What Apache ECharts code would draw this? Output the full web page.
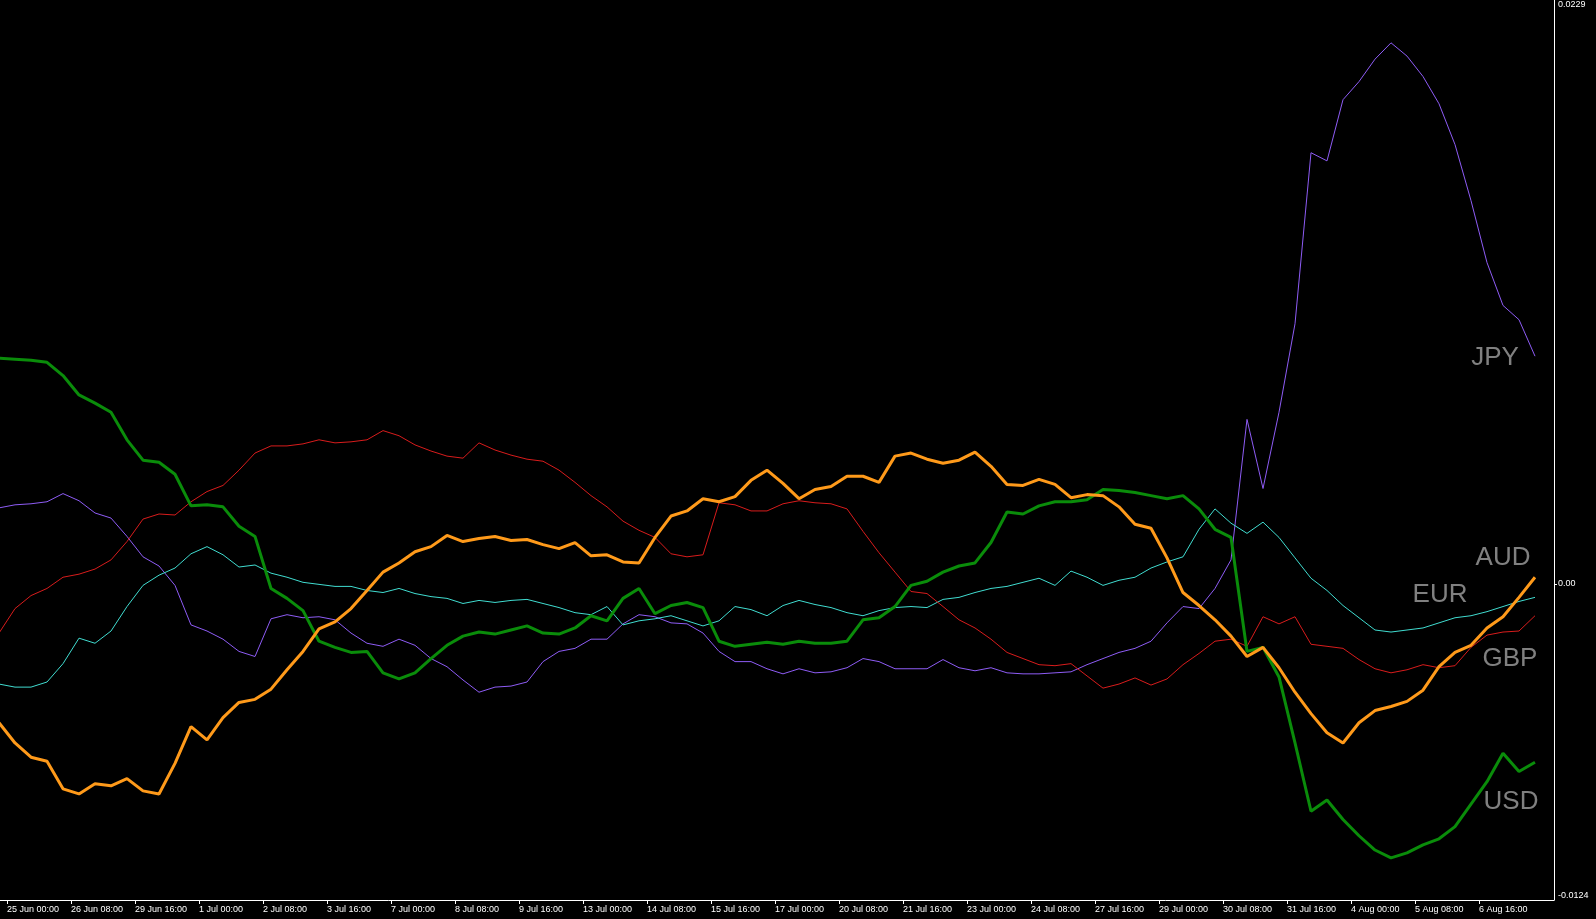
<!DOCTYPE html>
<html>
<head>
<meta charset="utf-8">
<script src="https://cdn.jsdelivr.net/npm/echarts@6/dist/echarts.min.js"></script>
<style>
html,body{margin:0;padding:0;background:#000;}
#c{width:1596px;height:919px;}
</style>
</head>
<body>
<div id="c"></div>
<script>
// Time-axis tick labels (one every 4 H8 bars)
const tickLabels = ['25 Jun 00:00','26 Jun 08:00','29 Jun 16:00','1 Jul 00:00','2 Jul 08:00','3 Jul 16:00',
  '7 Jul 00:00','8 Jul 08:00','9 Jul 16:00','13 Jul 00:00','14 Jul 08:00','15 Jul 16:00','17 Jul 00:00',
  '20 Jul 08:00','21 Jul 16:00','23 Jul 00:00','24 Jul 08:00','27 Jul 16:00','29 Jul 00:00','30 Jul 08:00',
  '31 Jul 16:00','4 Aug 00:00','5 Aug 08:00','6 Aug 16:00'];
const barsPerLabel = 4;
const firstBar = -1;          // first value belongs to the bar just before 25 Jun 00:00
const yLabelValues = [-0.0124, 0, 0.0229];

const USD = [0.00885,
 0.00881,0.00877,0.00869,0.00817,0.00741,0.00709,0.00673,0.00565,0.00485,0.00477,
 0.00430,0.00306,0.00310,0.00302,0.00226,0.00186,-0.00018,-0.00057,-0.00105,-0.00225,
 -0.00249,-0.00269,-0.00265,-0.00349,-0.00373,-0.00349,-0.00293,-0.00241,-0.00205,-0.00189,
 -0.00197,-0.00181,-0.00165,-0.00193,-0.00197,-0.00173,-0.00125,-0.00145,-0.00057,-0.00018,
 -0.00117,-0.00085,-0.00073,-0.00093,-0.00225,-0.00245,-0.00237,-0.00229,-0.00237,-0.00225,
 -0.00233,-0.00233,-0.00225,-0.00141,-0.00133,-0.00089,-0.00006,0.00010,0.00046,0.00070,
 0.00082,0.00162,0.00282,0.00274,0.00306,0.00322,0.00322,0.00330,0.00370,0.00366,
 0.00358,0.00346,0.00334,0.00346,0.00294,0.00214,0.00182,-0.00265,-0.00249,-0.00365,
 -0.00624,-0.00892,-0.00848,-0.00924,-0.00988,-0.01044,-0.01075,-0.01055,-0.01024,-0.01000,
 -0.00952,-0.00864,-0.00776,-0.00664,-0.00736,-0.00700];

const AUD = [-0.00545,
 -0.00624,-0.00680,-0.00696,-0.00804,-0.00824,-0.00784,-0.00792,-0.00764,-0.00812,-0.00824,
 -0.00704,-0.00560,-0.00612,-0.00525,-0.00465,-0.00453,-0.00413,-0.00337,-0.00265,-0.00177,
 -0.00149,-0.00097,-0.00026,0.00046,0.00082,0.00126,0.00146,0.00190,0.00166,0.00178,
 0.00186,0.00170,0.00174,0.00154,0.00138,0.00162,0.00110,0.00114,0.00086,0.00082,
 0.00182,0.00266,0.00286,0.00334,0.00322,0.00342,0.00406,0.00446,0.00394,0.00334,
 0.00370,0.00382,0.00422,0.00422,0.00398,0.00501,0.00513,0.00489,0.00473,0.00485,
 0.00517,0.00461,0.00390,0.00386,0.00410,0.00390,0.00338,0.00350,0.00346,0.00302,
 0.00234,0.00218,0.00102,-0.00034,-0.00085,-0.00141,-0.00205,-0.00285,-0.00249,-0.00329,
 -0.00425,-0.00509,-0.00584,-0.00624,-0.00545,-0.00497,-0.00481,-0.00461,-0.00417,-0.00325,
 -0.00269,-0.00241,-0.00173,-0.00129,-0.00053,0.00026];

const GBP = [-0.00193,
 -0.00097,-0.00046,-0.00018,0.00026,0.00038,0.00058,0.00094,0.00166,0.00254,0.00274,
 0.00270,0.00322,0.00362,0.00386,0.00446,0.00513,0.00541,0.00541,0.00549,0.00565,
 0.00553,0.00557,0.00565,0.00601,0.00581,0.00545,0.00521,0.00501,0.00493,0.00553,
 0.00525,0.00505,0.00489,0.00481,0.00446,0.00398,0.00346,0.00302,0.00246,0.00210,
 0.00182,0.00118,0.00106,0.00114,0.00318,0.00310,0.00286,0.00286,0.00314,0.00326,
 0.00318,0.00314,0.00294,0.00206,0.00122,0.00046,-0.00030,-0.00038,-0.00089,-0.00141,
 -0.00173,-0.00217,-0.00269,-0.00293,-0.00317,-0.00321,-0.00313,-0.00361,-0.00409,-0.00393,
 -0.00369,-0.00397,-0.00373,-0.00317,-0.00273,-0.00225,-0.00217,-0.00245,-0.00129,-0.00157,
 -0.00129,-0.00237,-0.00245,-0.00253,-0.00297,-0.00333,-0.00349,-0.00337,-0.00317,-0.00329,
 -0.00321,-0.00249,-0.00201,-0.00189,-0.00185,-0.00125];

const EUR = [-0.00393,
 -0.00405,-0.00405,-0.00385,-0.00313,-0.00213,-0.00233,-0.00185,-0.00089,-0.00006,0.00034,
 0.00062,0.00118,0.00146,0.00114,0.00066,0.00074,0.00042,0.00026,0.00006,-0.00002,
 -0.00010,-0.00010,-0.00026,-0.00034,-0.00018,-0.00038,-0.00050,-0.00057,-0.00077,-0.00065,
 -0.00073,-0.00065,-0.00061,-0.00077,-0.00093,-0.00113,-0.00121,-0.00089,-0.00161,-0.00145,
 -0.00137,-0.00125,-0.00145,-0.00165,-0.00145,-0.00089,-0.00101,-0.00125,-0.00085,-0.00065,
 -0.00081,-0.00093,-0.00113,-0.00125,-0.00105,-0.00093,-0.00089,-0.00093,-0.00061,-0.00053,
 -0.00034,-0.00018,-0.00010,0.00006,0.00022,-0.00006,0.00050,0.00026,-0.00006,0.00014,
 0.00026,0.00062,0.00086,0.00106,0.00214,0.00294,0.00238,0.00198,0.00242,0.00182,
 0.00102,0.00022,-0.00026,-0.00085,-0.00133,-0.00181,-0.00189,-0.00181,-0.00173,-0.00153,
 -0.00133,-0.00125,-0.00109,-0.00089,-0.00069,-0.00053];

const JPY = [0.00298,
 0.00310,0.00314,0.00322,0.00354,0.00326,0.00278,0.00258,0.00186,0.00106,0.00070,
 -0.00006,-0.00161,-0.00185,-0.00217,-0.00265,-0.00285,-0.00137,-0.00121,-0.00133,-0.00129,
 -0.00141,-0.00193,-0.00233,-0.00245,-0.00217,-0.00241,-0.00293,-0.00325,-0.00377,-0.00425,
 -0.00405,-0.00401,-0.00385,-0.00305,-0.00265,-0.00253,-0.00217,-0.00217,-0.00157,-0.00121,
 -0.00129,-0.00153,-0.00157,-0.00193,-0.00265,-0.00305,-0.00305,-0.00333,-0.00353,-0.00333,
 -0.00349,-0.00345,-0.00329,-0.00293,-0.00305,-0.00333,-0.00333,-0.00333,-0.00297,-0.00329,
 -0.00341,-0.00329,-0.00349,-0.00353,-0.00353,-0.00349,-0.00345,-0.00317,-0.00293,-0.00269,
 -0.00253,-0.00225,-0.00153,-0.00089,-0.00097,-0.00018,0.00094,0.00645,0.00374,0.00673,
 0.01020,0.01691,0.01659,0.01899,0.01970,0.02058,0.02122,0.02070,0.01990,0.01883,
 0.01723,0.01503,0.01260,0.01092,0.01036,0.00893];

const currencyNames = ['JPY','EUR','GBP','USD','AUD'];

// ---- presentation ----
const seriesStyle = {
  JPY:{color:'#8e5cf5', width:1},
  EUR:{color:'#40dcd0', width:1},
  GBP:{color:'#d81c1c', width:1},
  USD:{color:'#0a8c0a', width:3},
  AUD:{color:'#ff9a1a', width:3}
};
const nameLabelPos = {JPY:[1495,358], AUD:[1503,558], EUR:[1440,595], GBP:[1510,659], USD:[1511,802]};
const dataByName = {USD, AUD, GBP, EUR, JPY};

// tick k sits half a bar before bar 4k
const tickValues = tickLabels.map((_, k) => k * barsPerLabel - 0.5);
const font = "'Liberation Sans', Arial, sans-serif";

const chart = echarts.init(document.getElementById('c'), null, {renderer:'canvas'});
chart.setOption({
  animation:false,
  backgroundColor:'#000000',
  grid:{left:0, top:0, width:1554, height:900, containLabel:false},
  xAxis:{
    type:'value', min:-0.9375, max:96.1875,
    splitLine:{show:false},
    axisLine:{show:true, onZero:false, lineStyle:{color:'#ffffff', width:1}},
    axisTick:{show:true, customValues:tickValues, length:4, lineStyle:{color:'#ffffff'}},
    axisLabel:{show:true, customValues:tickValues, align:'left', margin:5,
      color:'#ffffff', fontSize:9, fontFamily:font,
      formatter:(v)=>{const k=Math.round((v+0.5)/barsPerLabel); return tickLabels[k]||'';}}
  },
  yAxis:{
    type:'value', position:'right', min:-0.0124, max:0.0229,
    splitLine:{show:false},
    axisLine:{show:true, onZero:false, lineStyle:{color:'#ffffff', width:1}},
    axisTick:{show:true, customValues:[0], length:3, lineStyle:{color:'#ffffff'}},
    axisLabel:{show:true, customValues:yLabelValues, margin:4, color:'#ffffff', fontSize:9, fontFamily:font,
      verticalAlignMinLabel:'bottom', verticalAlignMaxLabel:'top',
      formatter:(v)=> v===0 ? '0.00' : v.toFixed(4)}
  },
  series: currencyNames.map(n => ({
    name:n, type:'line', showSymbol:false, symbol:'none', smooth:false, silent:true,
    z: seriesStyle[n].width>1 ? 3 : 2,
    lineStyle:{color:seriesStyle[n].color, width:seriesStyle[n].width},
    data: dataByName[n].map((v,i)=>[i+firstBar, v])
  })),
  graphic: currencyNames.map(n => ({
    type:'text', silent:true, z:10,
    style:{text:n, x:nameLabelPos[n][0], y:nameLabelPos[n][1], fill:'#808080',
      font:"26px " + font, align:'center', verticalAlign:'middle',
      textAlign:'center', textVerticalAlign:'middle'}
  }))
});
</script>
</body>
</html>
